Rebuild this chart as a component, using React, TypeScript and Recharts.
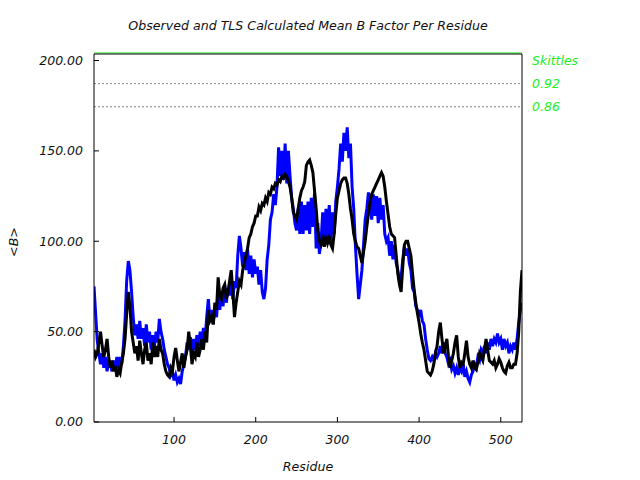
import React from "react";
import { LineChart, Line, XAxis, YAxis, ReferenceLine } from "recharts";

// residues sampled every 2nd position, starting at residue 2
const FIRST_RESIDUE = 2;
const RESIDUE_STEP = 2;

// observed mean B per residue (black), 10 values per row = 20 residues
const observedB = [
  40, 36, 38, 44, 50, 42, 36, 40, 46, 36,
  30, 34, 28, 31, 25, 29, 27, 33, 38, 46,
  60, 72, 64, 50, 44, 38, 42, 34, 45, 38,
  32, 40, 44, 34, 38, 32, 44, 36, 42, 36,
  46, 40, 38, 32, 28, 26, 25, 30, 28, 36,
  41, 34, 28, 33, 38, 30, 36, 40, 50, 42,
  32, 38, 36, 44, 36, 40, 46, 40, 50, 44,
  62, 56, 58, 54, 66, 62, 80, 70, 68, 74,
  76, 68, 72, 78, 84, 72, 58, 66, 72, 78,
  76, 84, 88, 92, 96, 102, 104, 108, 110, 114,
  114, 119, 117, 121, 120, 124, 122, 127, 126, 130,
  129, 132, 131, 134, 133, 136, 135, 137, 136, 133,
  130, 124, 116, 114, 112, 118, 124, 128, 130, 133,
  142, 144, 145, 142, 138, 128, 118, 106, 100, 98,
  101, 97, 103, 99, 102, 98, 96, 104, 115, 124,
  128, 132, 134, 135, 135, 132, 126, 118, 112, 104,
  100, 97, 96, 92, 88, 94, 100, 108, 115, 122,
  126, 128, 130, 132, 134, 136, 138, 136, 130, 122,
  115, 108, 104, 103, 102, 92, 82, 76, 72, 86,
  98, 100, 100, 96, 92, 82, 73, 66, 60, 55,
  49, 44, 40, 34, 28, 27, 26, 28, 32, 38,
  42, 50, 55, 46, 38, 42, 46, 36, 30, 34,
  38, 44, 48, 36, 30, 33, 32, 38, 45, 36,
  32, 30, 34, 30, 29, 33, 38, 36, 34, 40,
  46, 40, 34, 33, 32, 34, 30, 32, 35, 33,
  30, 28, 27, 31, 33, 30, 30, 32, 32, 38,
  50, 72, 84,
];

// TLS calculated mean B per residue (blue)
const tlsB = [
  75, 60, 45, 38, 32, 38, 30, 36, 28, 34,
  32, 28, 34, 30, 36, 30, 36, 32, 42, 56,
  78, 89, 84, 72, 58, 48, 54, 46, 56, 46,
  52, 42, 54, 44, 50, 40, 48, 42, 50, 44,
  57, 50, 46, 40, 36, 32, 30, 26, 28, 23,
  26, 22, 24, 21, 28, 32, 36, 44, 40, 47,
  36, 46, 40, 48, 42, 50, 44, 52, 46, 58,
  68, 56, 62, 54, 64, 58, 70, 62, 72, 64,
  76, 66, 74, 70, 80, 68, 78, 74, 92, 103,
  96, 86, 94, 84, 96, 82, 92, 80, 90, 82,
  86, 76, 84, 72, 68, 74, 90, 98, 112, 116,
  126, 120, 130, 152, 136, 150, 134, 154, 132, 150,
  136, 124, 118, 110, 106, 118, 104, 122, 104, 120,
  106, 122, 104, 124, 108, 127, 96, 110, 93, 100,
  116, 100, 118, 102, 120, 100, 116, 104, 122, 130,
  140, 154, 144, 160, 150, 163, 146, 154, 130, 118,
  98, 82, 68, 76, 84, 98, 112, 118, 127, 122,
  112, 126, 114, 125, 110, 124, 112, 120, 104, 100,
  102, 92, 100, 90, 98, 88, 84, 78, 80, 90,
  97, 92, 96, 88, 84, 74, 72, 64, 62, 58,
  62, 56, 54, 46, 40, 35, 34, 36, 34, 38,
  36, 38, 42, 38, 44, 38, 36, 32, 34, 29,
  31, 27, 30, 26, 30, 28, 32, 25, 28, 24,
  22, 26, 28, 32, 30, 36, 34, 40, 38, 42,
  38, 44, 40, 46, 42, 46, 44, 49, 44, 46,
  40, 46, 42, 44, 38, 42, 40, 44, 40, 46,
  55, 62, 66,
];

const xTicks = [100, 200, 300, 400, 500];
const yTicks = [0, 50, 100, 150, 200];
const skittleValues = [187.2, 174.4];
const skittleLabels = ["0.92", "0.86"];

const data = observedB.map((v, i) => ({
  res: FIRST_RESIDUE + i * RESIDUE_STEP,
  obs: v,
  tls: tlsB[i],
}));

const FONT = "'DejaVu Sans', Verdana, sans-serif";
const tickStyle = { fontSize: 12.5, fontStyle: "italic", fill: "#111", fontFamily: FONT };
const GREEN = "#22ee22";

export default function App() {
  return (
    <div style={{ position: "absolute", left: 0, top: 0, width: 640, height: 480, background: "#fff", fontFamily: FONT }}>
      <div style={{ position: "absolute", left: 0, width: 616, top: 18, textAlign: "center", fontSize: 12.6, fontStyle: "italic", color: "#111" }}>
        Observed and TLS Calculated Mean B Factor Per Residue
      </div>
      <div style={{ position: "absolute", left: 0, width: 616, top: 459, textAlign: "center", fontSize: 12.6, fontStyle: "italic", color: "#111" }}>
        Residue
      </div>
      <div style={{ position: "absolute", left: 13, top: 242, transform: "translate(-50%, -50%) rotate(-90deg)", fontSize: 12.6, fontStyle: "italic", color: "#111", whiteSpace: "nowrap" }}>
        {"<B>"}
      </div>
      <LineChart width={640} height={480} data={data} margin={{ top: 44, right: 108, bottom: 48, left: 84 }}>
        <XAxis xAxisId="b" dataKey="res" type="number" domain={[2, 526]} ticks={xTicks} height={10}
          tickSize={-5} tickMargin={18} tick={tickStyle} stroke="#000" allowDataOverflow />
        <XAxis xAxisId="t" orientation="top" dataKey="res" type="number" domain={[2, 526]} ticks={xTicks} height={10}
          tickSize={-5} tick={false} stroke="#000" allowDataOverflow />
        <YAxis yAxisId="l" type="number" domain={[0, 203.6]} ticks={yTicks} width={10}
          tickSize={-5} tickMargin={16} tick={tickStyle} tickFormatter={(v: number) => v.toFixed(2)} stroke="#000" allowDataOverflow />
        <YAxis yAxisId="r" orientation="right" type="number" domain={[0, 203.6]} ticks={yTicks} width={10}
          tickSize={-5} tick={false} stroke="#000" allowDataOverflow />
        {/* thin green rule sitting just above the frame */}
        <ReferenceLine xAxisId="b" yAxisId="l" y={204.2} stroke={GREEN} strokeWidth={1} ifOverflow="visible" />
        <ReferenceLine xAxisId="b" yAxisId="l" y={200} stroke="none"
          label={{ value: "Skittles", position: "right", offset: 10, fill: GREEN, fontSize: 12.5, fontStyle: "italic", fontFamily: FONT }} />
        {skittleValues.map((v, i) => (
          <ReferenceLine key={v} xAxisId="b" yAxisId="l" y={v} stroke="#888" strokeDasharray="2 2"
            label={{ value: skittleLabels[i], position: "right", offset: 10, fill: GREEN, fontSize: 12.5, fontStyle: "italic", fontFamily: FONT }} />
        ))}
        <Line xAxisId="b" yAxisId="l" type="linear" dataKey="tls" stroke="#0000ff" strokeWidth={3} dot={false} isAnimationActive={false} />
        <Line xAxisId="b" yAxisId="l" type="linear" dataKey="obs" stroke="#000" strokeWidth={3} dot={false} isAnimationActive={false} />
      </LineChart>
    </div>
  );
}
